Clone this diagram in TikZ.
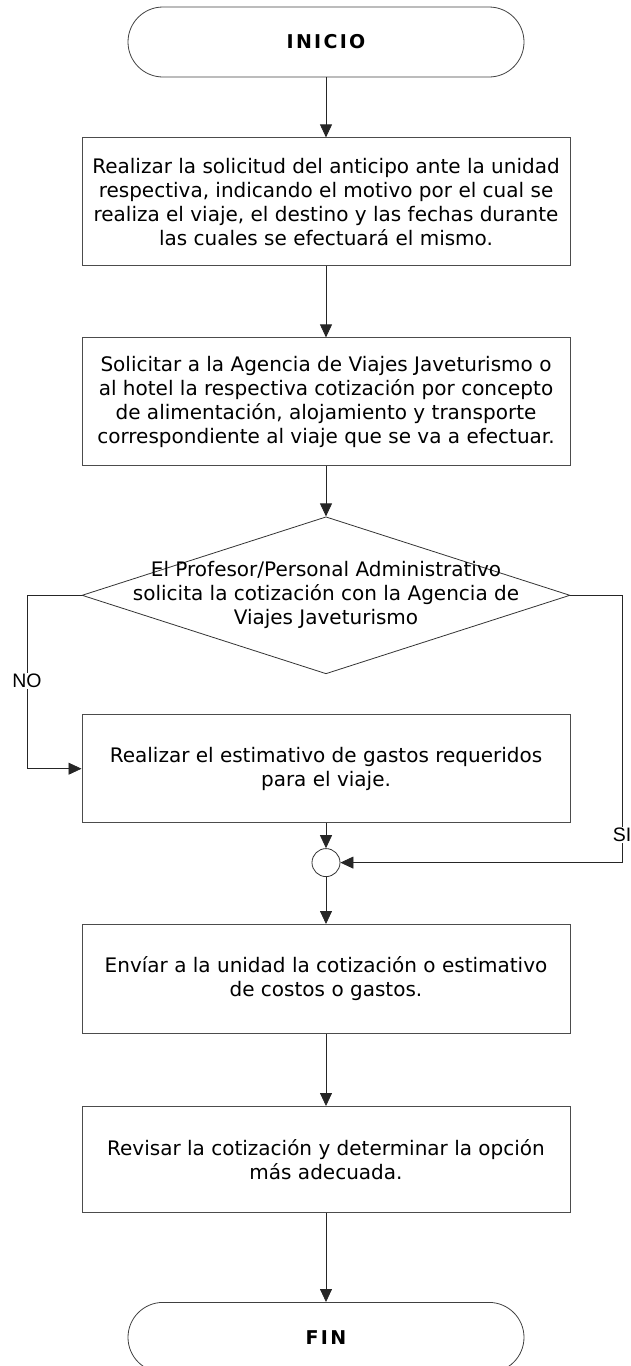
\documentclass[tikz,border=0pt]{standalone}
\usepackage{fontspec}
\setmainfont{DejaVu Sans}
\newfontfamily\labelfont{Liberation Sans}
\usetikzlibrary{positioning}
\usetikzlibrary{shapes.geometric}
\usetikzlibrary{arrows.meta}

\begin{document}
\begin{tikzpicture}[x=1pt, y=-1pt,
	tnode/.style={rectangle, rounded corners=35pt, draw=black!75, line width=.8pt, minimum width=396pt, minimum height=70pt, font=\fontsize{19}{23}\selectfont\bfseries\addfontfeatures{LetterSpace=12}},
	pnode/.style={rectangle, draw=black!70, line width=1pt, minimum width=488pt, inner sep=0pt, align=center, font=\fontsize{20}{24}\selectfont},
	dnode/.style={diamond, draw=black!80, line width=.8pt, minimum width=488pt, minimum height=157pt, inner sep=0pt},
	jnode/.style={circle, draw=black!80, line width=.8pt, minimum size=28pt, inner sep=0pt},
	lnode/.style={fill=white, inner sep=1pt, font=\labelfont\fontsize{19.5}{22}\selectfont},
	flow/.style={line width=.8pt, draw=black!85, -{Triangle[length=13pt,width=12pt]}},
	node distance = 60pt]
		\useasboundingbox (0,0) rectangle (631,1366);
		\node[tnode] (inicio) at (326,42) {INICIO};
		\node[pnode, minimum height=128pt] (anticipo)[below = 60pt of inicio]{Realizar la solicitud del anticipo ante la unidad\\respectiva, indicando el motivo por el cual se\\realiza el viaje, el destino y las fechas durante\\las cuales se efectuará el mismo.};
		\node[pnode, minimum height=128pt] (cotizar)[below = 71pt of anticipo]{Solicitar a la Agencia de Viajes Javeturismo o\\al hotel la respectiva cotización por concepto\\de alimentación, alojamiento y transporte\\correspondiente al viaje que se va a efectuar.};
		\node[dnode] (agencia)[below = 50pt of cotizar]{};
		\node[align=center, inner sep=0pt, font=\fontsize{20}{24}\selectfont] (agenciatxt) at (agencia.center) {El Profesor/Personal Administrativo\\solicita la cotización con la Agencia de\\Viajes Javeturismo};
		\node[pnode, minimum height=108pt] (estimar)[below = 40pt of agencia]{Realizar el estimativo de gastos requeridos\\para el viaje.};
		\node[jnode] (union)[below = 25pt of estimar]{};
		\node[pnode, minimum height=109pt] (enviar)[below = 47pt of union]{Envíar a la unidad la cotización o estimativo\\de costos o gastos.};
		\node[pnode, minimum height=106pt] (revisar)[below = 72pt of enviar]{Revisar la cotización y determinar la opción\\más adecuada.};
		\node[tnode] (fin)[below = 89pt of revisar]{FIN};
		\node[lnode] (no) at (27,681) {NO};
		\node[lnode] (si) at (622,835) {SI};
		\draw[flow] (inicio) -- (anticipo);
		\draw[flow] (anticipo) -- (cotizar);
		\draw[flow] (cotizar) -- (agencia);
		\draw[line width=.8pt, draw=black!85] (agencia.west) -| (no.north);
		\draw[flow] (no.south) |- (estimar.west);
		\draw[line width=.8pt, draw=black!85] (agencia.east) -| (si.north);
		\draw[flow] (si.south) |- (union.east);
		\draw[flow] (estimar) -- (union);
		\draw[flow] (union) -- (enviar);
		\draw[flow] (enviar) -- (revisar);
		\draw[flow] (revisar) -- (fin);
	\end{tikzpicture}
\end{document}
